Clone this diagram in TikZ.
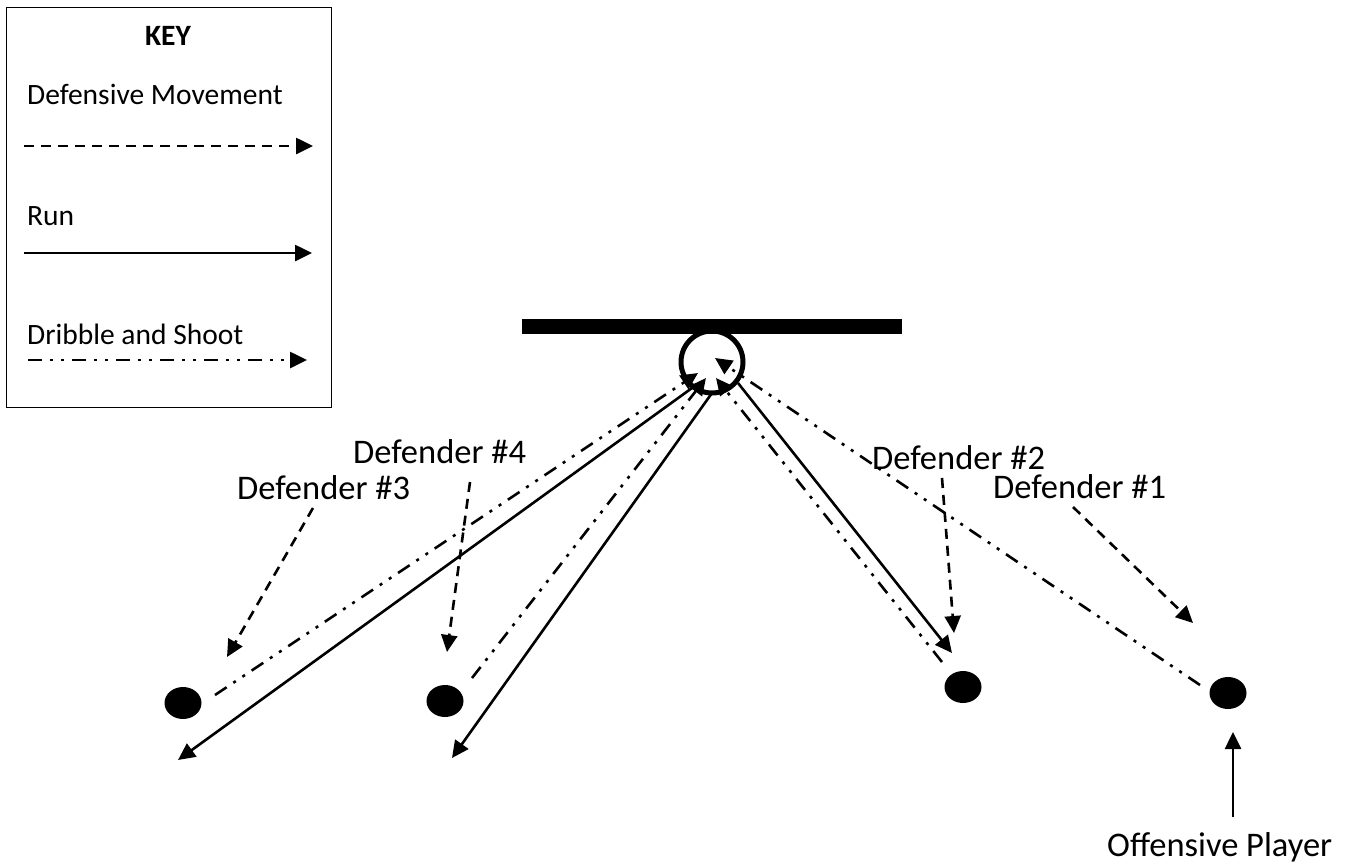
\documentclass[tikz,border=0pt]{standalone}
\usepackage{fontspec}
\setmainfont{Carlito}
\usetikzlibrary{arrows.meta,shapes.geometric}

\tikzset{
  tip/.style={-{Triangle[length=17pt,width=16pt]}},
  defmove/.style={tip, line width=2.6pt, dash pattern=on 10pt off 7pt},
  runline/.style={tip, line width=2.6pt},
  dribble/.style={tip, line width=2.6pt,
    dash pattern=on 14pt off 8pt on 3pt off 8pt on 3pt off 8pt},
  player/.style={ellipse, fill=black, minimum width=37pt, minimum height=32pt, inner sep=0pt},
  lbl/.style={font=\fontsize{34.5}{40}\selectfont, anchor=base west, inner sep=0pt},
  keytxt/.style={font=\fontsize{29.5}{35}\selectfont, anchor=base west, inner sep=0pt}
}

\begin{document}
\begin{tikzpicture}[x=1pt,y=-1pt]
\useasboundingbox (0,0) rectangle (1345,863);

% legend box
\node[draw, line width=1.4pt, minimum width=325pt, minimum height=400pt, anchor=north west, inner sep=0pt] (keybox) at (6,7) {};
\node[font=\fontsize{29.5}{35}\selectfont\bfseries, anchor=base, inner sep=0pt] (keytitle) at (168,45) {KEY};
\node[keytxt] (kdef) at (27,104) {Defensive Movement};
\node[keytxt] (krun) at (27,225) {Run};
\node[keytxt] (kdrb) at (27,344) {Dribble and Shoot};
\coordinate (kd1) at (24,146);  \coordinate (kd2) at (313,146);
\coordinate (kr1) at (24,253);  \coordinate (kr2) at (312,253);
\coordinate (kb1) at (28,360);  \coordinate (kb2) at (307,360);
\draw[defmove] (kd1) -- (kd2);
\draw[runline] (kr1) -- (kr2);
\draw[dribble] (kb1) -- (kb2);

% goal and target ring
\node[fill=black, minimum width=380pt, minimum height=15pt, inner sep=0pt, anchor=north west] (bar) at (522,319) {};
\node[circle, draw, line width=5pt, minimum size=62pt, inner sep=0pt] (ring) at (712,362) {};

% players
\node[player] (p3) at (183,703) {};
\node[player] (p4) at (445,701) {};
\node[player] (p2) at (963,687) {};
\node[player] (p1) at (1228,693) {};

% labels
\node[lbl] (l3) at (237,499) {Defender \#3};
\node[lbl] (l4) at (353,463) {Defender \#4};
\node[lbl] (l2) at (872,469) {Defender \#2};
\node[lbl] (l1) at (993,498) {Defender \#1};
\node[lbl] (lo) at (1107,856) {Offensive Player};

% defensive movements
\coordinate (d3a) at (313,508); \coordinate (d3b) at (227,657);
\coordinate (d4a) at (470,482); \coordinate (d4b) at (447,652);
\coordinate (d2a) at (942,478); \coordinate (d2b) at (954,633);
\coordinate (d1a) at (1073,507); \coordinate (d1b) at (1193,623);
\draw[defmove] (d3a) -- (d3b);
\draw[defmove] (d4a) -- (d4b);
\draw[defmove] (d2a) -- (d2b);
\draw[defmove] (d1a) -- (d1b);

% offensive player pointer
\coordinate (oa) at (1233,817); \coordinate (ob) at (1233,732);
\draw[runline] (oa) -- (ob);

% runs away from the goal
\coordinate (r1a) at (692,388); \coordinate (r1b) at (178,760);
\coordinate (r2a) at (712,393); \coordinate (r2b) at (452,758);
\coordinate (r3a) at (738,383); \coordinate (r3b) at (952,653);
\draw[runline] (r1a) -- (r1b);
\draw[runline] (r2a) -- (r2b);
\draw[runline] (r3a) -- (r3b);

% dribble and shoot
\coordinate (s1a) at (215,695);  \coordinate (s1b) at (698,373);
\coordinate (s2a) at (472,678);  \coordinate (s2b) at (706,378);
\coordinate (s3a) at (942,662);  \coordinate (s3b) at (716,378);
\coordinate (s4a) at (1200,685); \coordinate (s4b) at (715,358);
\draw[dribble] (s1a) -- (s1b);
\draw[dribble] (s2a) -- (s2b);
\draw[dribble] (s3a) -- (s3b);
\draw[dribble] (s4a) -- (s4b);
\end{tikzpicture}
\end{document}
